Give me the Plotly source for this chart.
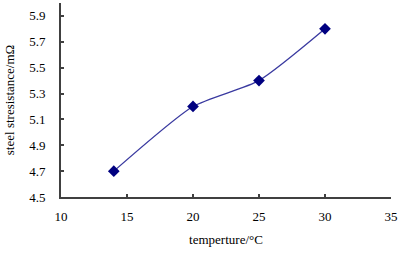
import plotly.graph_objects as go

temperature = [14, 20, 25, 30]
resistance = [4.7, 5.2, 5.4, 5.8]
x_ticks = [10, 15, 20, 25, 30, 35]
y_ticks = [4.5, 4.7, 4.9, 5.1, 5.3, 5.5, 5.7, 5.9]

fig = go.Figure()
fig.add_trace(go.Scatter(
    x=temperature, y=resistance, mode="lines+markers",
    line=dict(color="#3a3aa0", width=1.3, shape="spline", smoothing=0.6),
    marker=dict(symbol="diamond", size=9, color="#000080"),
))

font = dict(family="Liberation Serif, Times New Roman, serif", size=13, color="#000000")
axis_common = dict(
    showgrid=False, zeroline=False, showline=True, linecolor="#404040", linewidth=2,
    ticks="inside", ticklen=3, tickwidth=1.5, tickcolor="#404040",
    tickfont=dict(family=font["family"], size=13, color="#000000"),
)
fig.update_layout(
    template="none",
    width=401, height=256,
    margin=dict(l=61, r=10, t=3, b=59, autoexpand=False),
    paper_bgcolor="white", plot_bgcolor="white",
    showlegend=False,
    font=font,
    xaxis=dict(range=[10, 35], tickvals=x_ticks, ticktext=[str(v) for v in x_ticks],
               ticklabelstandoff=6,
               title=dict(text="temperture/°C", font=font, standoff=12), **axis_common),
    yaxis=dict(range=[4.5, 6.0], tickvals=y_ticks, ticktext=[f"{v:.1f}" for v in y_ticks],
               ticklabelstandoff=11,
               title=dict(text="steel stresistance/mΩ", font=font, standoff=12), **axis_common),
)
fig.write_html("out.html", config={"displayModeBar": False},
               post_script="document.body.style.margin='0';document.body.style.overflow='hidden';")
